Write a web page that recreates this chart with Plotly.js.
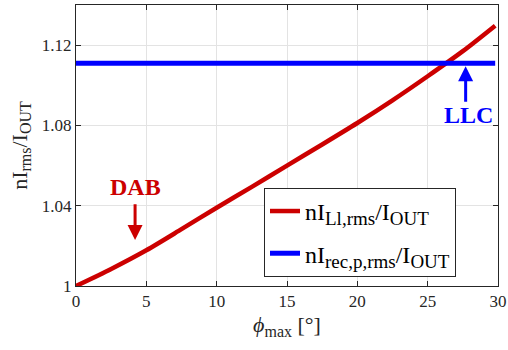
<!DOCTYPE html>
<html>
<head>
<meta charset="utf-8">
<script src="https://cdn.plot.ly/plotly-3.0.1.min.js"></script>
<style>
  html, body { margin: 0; padding: 0; background: #fff; }
  #chart { width: 508px; height: 350px; }
</style>
</head>
<body>
<div id="chart"></div>
<script>
// Normalised RMS current versus maximum phase shift
const phiMax = [0, 2.5, 5, 7.5, 10, 12.5, 15, 17.5, 20, 22.5, 25, 27.5, 29.8];
const dabCurrent = [1.000, 1.0085, 1.0178, 1.0283, 1.0390, 1.0494, 1.0600, 1.0705, 1.0812, 1.0925, 1.1045, 1.1170, 1.1297];
const llcPhi = [0, 29.8];
const llcCurrent = [1.111, 1.111];

const xTicks = [0, 5, 10, 15, 20, 25, 30];
const yTicks = [1, 1.04, 1.08, 1.12];
const yTickText = ['1', '1.04', '1.08', '1.12'];

const RED = '#cc0000';
const BLUE = '#0000ff';
const FONT = '"Liberation Serif", "Times New Roman", serif';

// subscript helper with a slightly larger size than the default 70 %
const sub = (t, px) => '<sub><span style="font-size:' + px + 'px">' + t + '</span></sub>';

const traces = [
  {
    x: phiMax, y: dabCurrent, type: 'scatter', mode: 'lines',
    name: 'nI' + sub('Ll,rms', 19) + '/I' + sub('OUT', 19), legendgroup: 'a',
    line: { color: RED, width: 4.5, shape: 'spline', smoothing: 0.8 }
  },
  {
    x: llcPhi, y: llcCurrent, type: 'scatter', mode: 'lines',
    name: 'nI' + sub('rec,p,rms', 19) + '/I' + sub('OUT', 19), legendgroup: 'b',
    line: { color: BLUE, width: 5 }
  }
];

const axisCommon = {
  showline: true, linecolor: '#262626', linewidth: 1, mirror: 'ticks',
  ticks: 'inside', ticklen: 5, tickcolor: '#262626',
  showgrid: true, gridcolor: '#e3e3e3', gridwidth: 1,
  zeroline: false, tickfont: { family: FONT, size: 17, color: '#262626' }
};

const layout = {
  width: 508, height: 350,
  margin: { l: 76, r: 10, t: 5, b: 64 },
  paper_bgcolor: '#fff', plot_bgcolor: '#fff',
  font: { family: FONT, color: '#262626' },
  xaxis: Object.assign({}, axisCommon, {
    range: [0, 30], tickvals: xTicks,
    title: { text: '<i>ϕ</i>' + sub('max', 16) + ' [°]', font: { family: FONT, size: 22 }, standoff: 6 }
  }),
  yaxis: Object.assign({}, axisCommon, {
    range: [1, 1.14], tickvals: yTicks, ticktext: yTickText,
    title: { text: 'nI' + sub('rms', 16) + '/I' + sub('OUT', 16), font: { family: FONT, size: 22 }, standoff: 8 }
  }),
  legend: {
    x: 0.4455, y: 0.349, xanchor: 'left', yanchor: 'top',
    bgcolor: '#fff', bordercolor: '#262626', borderwidth: 1,
    font: { family: FONT, size: 24, color: '#000' },
    tracegroupgap: 8
  },
  showlegend: true,
  annotations: [
    { x: 4.2, y: 1.0229, ax: 4.2, ay: 1.0415, xref: 'x', yref: 'y', axref: 'x', ayref: 'y',
      text: '', showarrow: true, arrowhead: 2, arrowsize: 1, arrowwidth: 3, arrowcolor: RED, standoff: 0 },
    { x: 4.2, y: 1.0495, xref: 'x', yref: 'y', text: '<b>DAB</b>', showarrow: false,
      font: { family: FONT, size: 24, color: RED } },
    { x: 27.7, y: 1.1095, ax: 27.7, ay: 1.091, xref: 'x', yref: 'y', axref: 'x', ayref: 'y',
      text: '', showarrow: true, arrowhead: 2, arrowsize: 1, arrowwidth: 3, arrowcolor: BLUE, standoff: 0 },
    { x: 27.9, y: 1.0852, xref: 'x', yref: 'y', text: '<b>LLC</b>', showarrow: false,
      font: { family: FONT, size: 24, color: BLUE } }
  ]
};

Plotly.newPlot('chart', traces, layout, { displayModeBar: false, staticPlot: true });
</script>
</body>
</html>
